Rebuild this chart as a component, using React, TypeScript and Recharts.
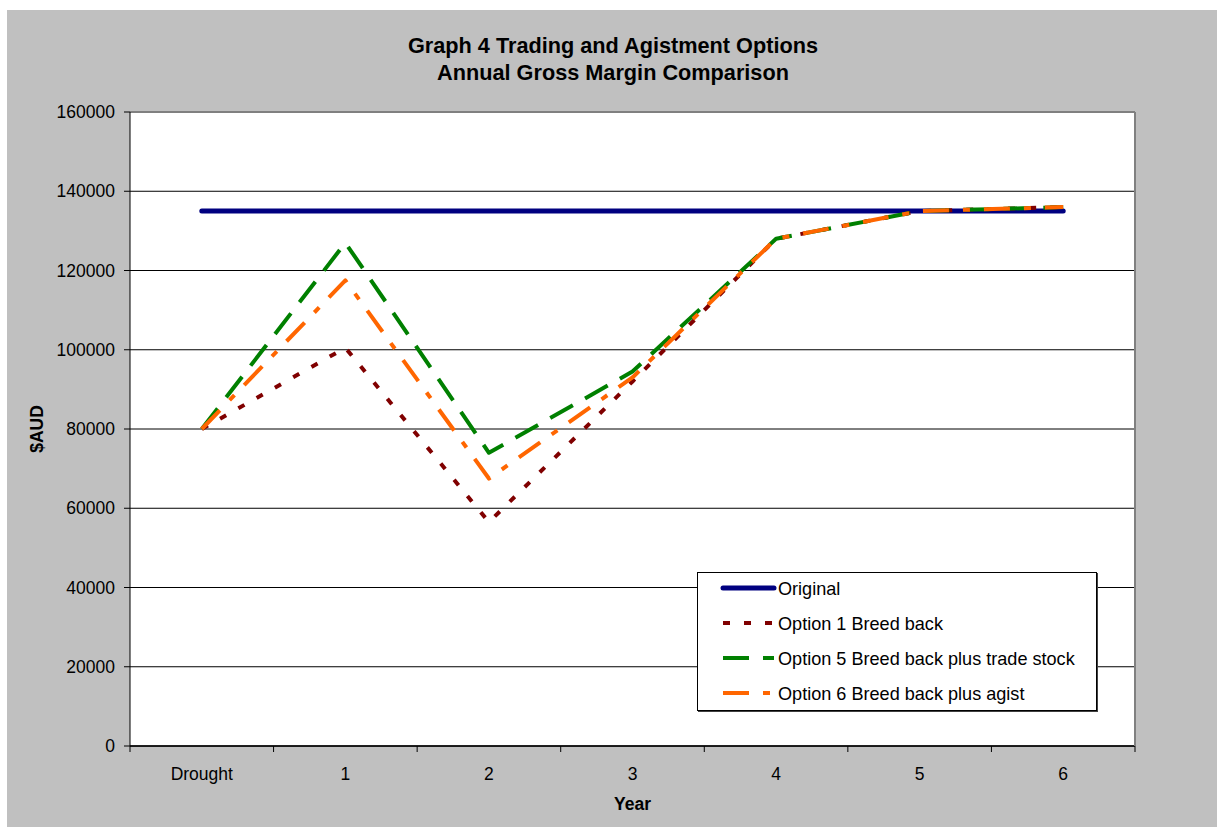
import React from 'react';
import { LineChart, Line, XAxis, YAxis, CartesianGrid, ReferenceLine } from 'recharts';

// Year categories along the x axis
const years = ['Drought', '1', '2', '3', '4', '5', '6'];

// Annual gross margin ($AUD) per scenario
const original = [135000, 135000, 135000, 135000, 135000, 135000, 135000];
const option1 = [80000, 100500, 56500, 92000, 128000, 135000, 136000];
const option5 = [80000, 127000, 74000, 94500, 128000, 135000, 136000];
const option6 = [80000, 117500, 67500, 93000, 128000, 135000, 136000];

const yTicks = [0, 20000, 40000, 60000, 80000, 100000, 120000, 140000, 160000];

const seriesNames = {
  original: 'Original',
  option1: 'Option 1 Breed back',
  option5: 'Option 5 Breed back plus trade stock',
  option6: 'Option 6 Breed back plus agist',
};

const data = years.map((year, i) => ({
  year,
  original: original[i],
  option1: option1[i],
  option5: option5[i],
  option6: option6[i],
}));

const FONT = '"Liberation Sans", Arial, sans-serif';
const CHART_W = 1210;
const CHART_H = 817;
const MARGIN = { top: 102, right: 81, bottom: 0, left: 0 };
const Y_AXIS_W = 123;
const X_AXIS_H = 81;
const PLOT_W = CHART_W - Y_AXIS_W - MARGIN.right - 1;
const HALF_BAND = PLOT_W / years.length / 2;

const styles = [
  { key: 'original', color: '#000080', width: 5, dash: undefined as string | undefined, cap: 'round' },
  { key: 'option1', color: '#800000', width: 4, dash: '7 14', cap: 'butt' },
  { key: 'option5', color: '#008000', width: 4, dash: '26 14', cap: 'butt' },
  { key: 'option6', color: '#FF6600', width: 4, dash: '26 14 7 14', cap: 'butt' },
];

// Category label with tick marks between categories (and at both ends)
const CategoryTick = (props: any) => {
  const { x, y, payload, index } = props;
  const last = index === years.length - 1;
  return (
    <g>
      <line x1={x - HALF_BAND} x2={x - HALF_BAND} y1={y} y2={y + 6} stroke="#000" strokeWidth={1} />
      {last && <line x1={x + HALF_BAND} x2={x + HALF_BAND} y1={y} y2={y + 6} stroke="#000" strokeWidth={1} />}
      <text x={x} y={y + 33.5} textAnchor="middle" fontFamily={FONT} fontSize={17.5} fill="#000">
        {payload.value}
      </text>
    </g>
  );
};

const LegendBox = () => (
  <div
    style={{
      position: 'absolute',
      left: 690,
      top: 562,
      width: 398,
      height: 137,
      border: '1px solid #000',
      background: '#fff',
      boxShadow: '1px 1px 0 #404040',
    }}
  >
    <svg width={398} height={137} style={{ display: 'block' }}>
      {styles.map((s, i) => {
        const cy = 15 + i * 35;
        return (
          <g key={s.key}>
            <line
              x1={25}
              x2={76}
              y1={cy}
              y2={cy}
              stroke={s.color}
              strokeWidth={s.width}
              strokeDasharray={s.dash}
              strokeLinecap={s.cap as any}
            />
            <text x={80} y={cy + 6.5} fontFamily={FONT} fontSize={18.1} fill="#000">
              {(seriesNames as any)[s.key]}
            </text>
          </g>
        );
      })}
    </svg>
  </div>
);

export default function App() {
  return (
    <div
      style={{
        position: 'absolute',
        left: 7,
        top: 10,
        width: CHART_W,
        height: CHART_H,
        background: '#c0c0c0',
        fontFamily: FONT,
      }}
    >
      <svg width={CHART_W} height={CHART_H} style={{ position: 'absolute', left: 0, top: 0 }}>
        <text x={606} y={43.3} textAnchor="middle" fontFamily={FONT} fontSize={21.7} fontWeight="bold" fill="#000">
          Graph 4 Trading and Agistment Options
        </text>
        <text x={606} y={70} textAnchor="middle" fontFamily={FONT} fontSize={21.7} fontWeight="bold" fill="#000">
          Annual Gross Margin Comparison
        </text>
        <text
          x={35.5}
          y={419}
          textAnchor="middle"
          transform="rotate(-90 35.5 419)"
          fontFamily={FONT}
          fontSize={17.5}
          fontWeight="bold"
          fill="#000"
        >
          $AUD
        </text>
      </svg>
      <div style={{ position: 'absolute', left: 0, top: 0 }}>
        <LineChart width={CHART_W} height={CHART_H} data={data} margin={MARGIN}>
          <CartesianGrid horizontal vertical={false} stroke="#000" fill="#fff" />
          <XAxis
            dataKey="year"
            height={X_AXIS_H}
            interval={0}
            padding={{ left: HALF_BAND, right: HALF_BAND }}
            axisLine={{ stroke: '#000', strokeWidth: 1.5 }}
            tickLine={false}
            tickSize={0}
            tickMargin={0}
            tick={<CategoryTick />}
            label={{
              content: (p: any) => (
                <text
                  x={p.viewBox.x + p.viewBox.width / 2}
                  y={p.viewBox.y + 64}
                  textAnchor="middle"
                  fontFamily={FONT}
                  fontSize={17.5}
                  fontWeight="bold"
                  fill="#000"
                >
                  Year
                </text>
              ),
            }}
          />
          <YAxis
            width={Y_AXIS_W}
            domain={[0, 160000]}
            ticks={yTicks}
            interval={0}
            axisLine={{ stroke: '#000', strokeWidth: 1 }}
            tickLine={{ stroke: '#000' }}
            tickSize={6}
            tickMargin={9}
            tick={{ fill: '#000', fontFamily: FONT, fontSize: 17.5 }}
          />
          <YAxis
            yAxisId="frame"
            orientation="right"
            width={1}
            domain={[0, 160000]}
            tick={false}
            tickLine={false}
            axisLine={{ stroke: '#808080', strokeWidth: 2 }}
          />
          <ReferenceLine y={160000} stroke="#808080" strokeWidth={2} />
          {styles.map((s) => (
            <Line
              key={s.key}
              type="linear"
              dataKey={s.key}
              name={(seriesNames as any)[s.key]}
              stroke={s.color}
              strokeWidth={s.width}
              strokeDasharray={s.dash}
              strokeLinecap={s.cap as any}
              strokeLinejoin="round"
              dot={false}
              activeDot={false}
              isAnimationActive={false}
            />
          ))}
        </LineChart>
      </div>
      <LegendBox />
    </div>
  );
}
